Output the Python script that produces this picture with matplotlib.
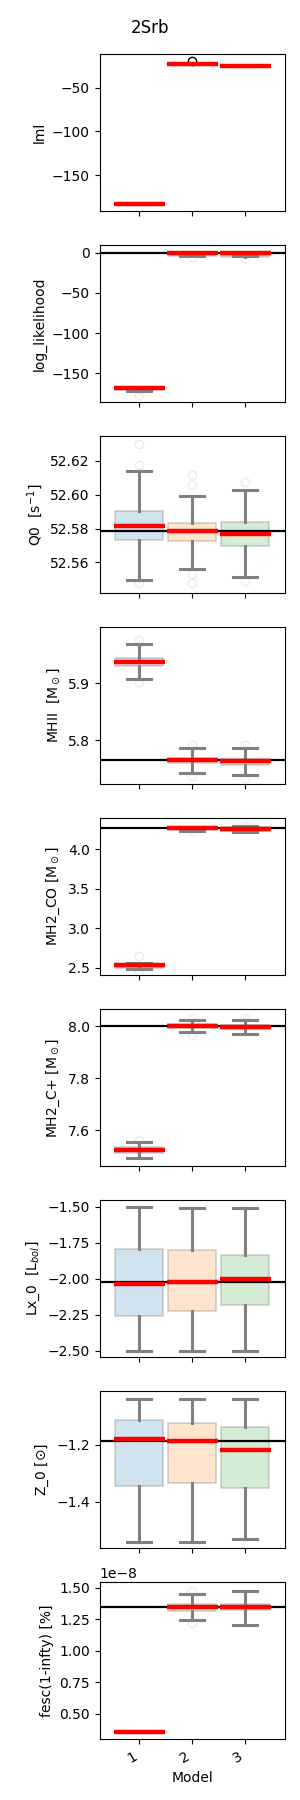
import matplotlib
matplotlib.use("Agg")
import matplotlib.pyplot as plt
from matplotlib.colors import to_rgba

# x categories
models = ["1", "2", "3"]

# one entry per panel: label, truth, best-fit (red), box stats, fliers, y limits
labels = ["lml", "log_likelihood", "Q0  [s$^{-1}$]", "MHII  [M$_\\odot$]",
          "MH2_CO [M$_\\odot$]", "MH2_C+ [M$_\\odot$]", "Lx_0  [L$_{bol}$]",
          "Z_0 [$\\odot$]", "fesc(1-infty) [%]"]
truth = [None, 0.0, 52.5788, 5.7654, 4.275, 8.0, -2.021, -1.185, 1.3455e-8]

best = [[-182.8, -22.5, -24.8],
        [-168.0, -0.5, -0.5],
        [52.5815, 52.5786, 52.5768],
        [5.9374, 5.7649, 5.7637],
        [2.533, 4.275, 4.263],
        [7.5245, 8.001, 7.996],
        [-2.035, -2.019, -2.000],
        [-1.178, -1.185, -1.217],
        [0.359e-8, 1.3455e-8, 1.3455e-8]]

q1 = [[-182.8, -22.5, -24.8],
      [-171.0, -4.0, -5.0],
      [52.5735, 52.5725, 52.5700],
      [5.9298, 5.7596, 5.7567],
      [2.500, 4.245, 4.235],
      [7.515, 7.994, 7.988],
      [-2.261, -2.220, -2.180],
      [-1.345, -1.334, -1.352],
      [0.359e-8, 1.320e-8, 1.325e-8]]

q3 = [[-182.8, -22.5, -24.8],
      [-169.0, -2.0, -3.0],
      [52.5902, 52.5835, 52.5841],
      [5.9449, 5.7684, 5.7677],
      [2.545, 4.280, 4.285],
      [7.535, 8.008, 8.004],
      [-1.792, -1.803, -1.834],
      [-1.114, -1.124, -1.139],
      [0.359e-8, 1.373e-8, 1.373e-8]]

whislo = [[-182.8, -22.5, -24.8],
          [-172.0, -3.7, -4.5],
          [52.5499, 52.5564, 52.5513],
          [5.9070, 5.7421, 5.7386],
          [2.475, 4.233, 4.216],
          [7.493, 7.976, 7.968],
          [-2.500, -2.500, -2.500],
          [-1.540, -1.540, -1.531],
          [0.359e-8, 1.245e-8, 1.205e-8]]

whishi = [[-182.8, -22.5, -24.8],
          [-168.0, -1.0, -1.0],
          [52.6138, 52.5995, 52.6030],
          [5.9690, 5.7865, 5.7865],
          [2.563, 4.288, 4.296],
          [7.555, 8.023, 8.023],
          [-1.500, -1.507, -1.507],
          [-1.039, -1.039, -1.039],
          [0.359e-8, 1.449e-8, 1.476e-8]]

fliers = [[[], [-19.6], []],
          [[-171.0, -176.8], [-5.6], [-6.5]],
          [[52.6178, 52.6297, 52.5476], [52.6055, 52.6114, 52.5530, 52.5480], [52.6073, 52.5489]],
          [[5.976, 5.9028], [5.7923, 5.7379], [5.792, 5.7344]],
          [[2.65, 2.46], [4.24], [4.30]],
          [[7.565], [8.03, 7.965], [8.03]],
          [[], [], []],
          [[], [], []],
          [[], [1.473e-8, 1.221e-8], []]]

ylims = [(-191.2, -11.4), (-185.7, 9.6), (52.5419, 52.6346), (5.7233, 5.9988),
         (2.402, 4.398), (7.463, 8.065), (-2.544, -1.454), (-1.563, -1.012),
         (0.2986e-8, 1.5446e-8)]

BOX_COLORS = ["tab:blue", "tab:orange", "tab:green"]
GRAY = "#808080"

pos = list(range(1, len(models) + 1))

fig, axes = plt.subplots(len(labels), 1, figsize=(3, 18), dpi=100, sharex=True)
fig.subplots_adjust(left=0.332, right=0.95, top=0.97, bottom=0.0337, hspace=0.216)

for i, ax in enumerate(axes):
    stats = [{"med": best[i][k], "q1": q1[i][k], "q3": q3[i][k],
              "whislo": whislo[i][k], "whishi": whishi[i][k], "fliers": fliers[i][k]}
             for k in range(len(models))]
    if i == 0:
        # lml: single values, only the outlier shows
        fprops = dict(marker="o", markerfacecolor="none", markeredgecolor="black", markersize=6)
    else:
        fprops = dict(marker="o", markerfacecolor="none",
                      markeredgecolor=to_rgba(GRAY, 0.15), markersize=6)
    bp = ax.bxp(stats, positions=pos, widths=0.9, patch_artist=True,
                whiskerprops=dict(color=GRAY, lw=2.2),
                capprops=dict(color=GRAY, lw=2.2),
                medianprops=dict(lw=0),
                flierprops=fprops)
    for patch, c in zip(bp["boxes"], BOX_COLORS):
        patch.set_facecolor(to_rgba(c, 0.2))
        patch.set_edgecolor(to_rgba(GRAY, 0.35))
        patch.set_linewidth(1.2)
    if i == 0:
        for patch in bp["boxes"]:
            patch.set_visible(False)

    ax.hlines(best[i], [p - 0.485 for p in pos], [p + 0.485 for p in pos],
              color="red", lw=3.2, zorder=4)
    if truth[i] is not None:
        ax.axhline(truth[i], color="black", lw=1.6, zorder=3)

    ax.set_ylabel(labels[i])
    ax.set_ylim(*ylims[i])
    ax.set_xlim(0.25, 3.75)

axes[-1].set_xticks(pos)
axes[-1].set_xticklabels(models)
plt.setp(axes[-1].get_xticklabels(), rotation=30, ha="right")
axes[-1].set_xlabel("Model")

fig.suptitle("2Srb", y=0.9894)
fig.savefig("out.png", dpi=100)
